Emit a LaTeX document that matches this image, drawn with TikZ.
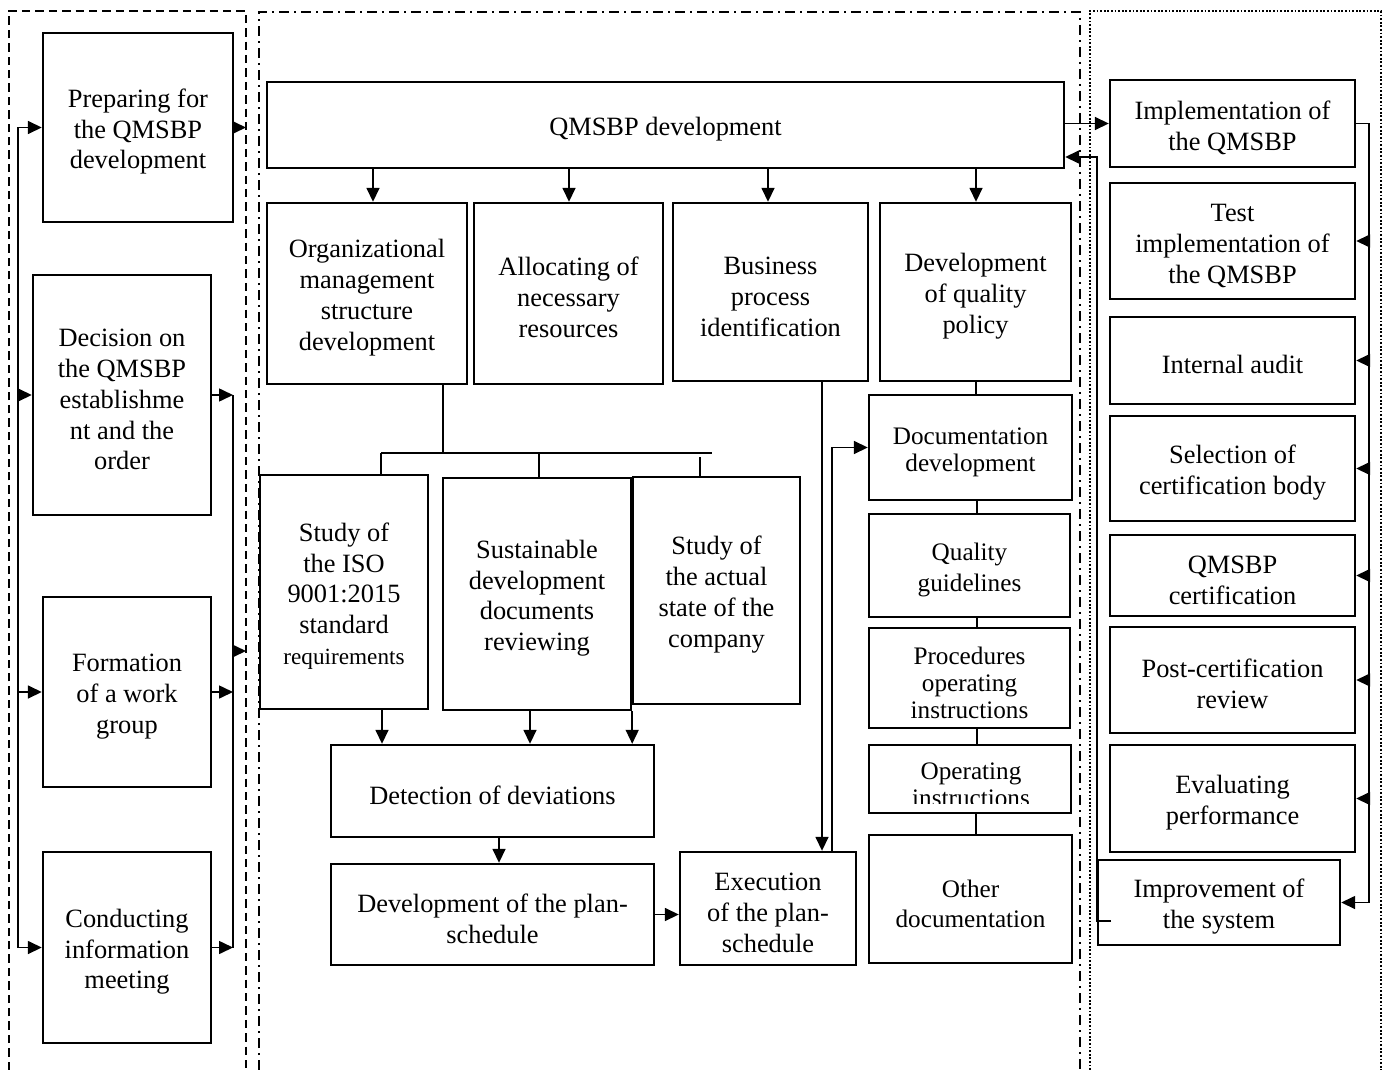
\documentclass[tikz,border=0pt]{standalone}
\usepackage{fontspec}
\setmainfont{Liberation Serif}
\usetikzlibrary{arrows.meta,calc}
\newcommand\fm{\fontsize{13.2}{15.4}\selectfont}
\newcommand\fd{\fontsize{12.6}{13.4}\selectfont}
\newcommand\fdw{\fontsize{12.6}{15.2}\selectfont}
\newcommand\fr{\fontsize{11.6}{14}\selectfont}
\newcommand\sr{\rule{0pt}{13.4pt}}
\begin{document}
\begin{tikzpicture}[x=0.5pt,y=-0.5pt,
 box/.style={draw, line width=1.2pt, inner sep=0pt, align=center, font=\fm},
 bx/.style n args={4}{box, minimum width={(#3-#1)*0.5pt}, minimum height={(#4-#2)*0.5pt}, at={({(#1+#3)/2},{(#2+#4)/2})}},
 dbx/.style n args={4}{bx={#1}{#2}{#3}{#4}, font=\fd},
 conn/.style={line width=0.8pt},
 arr/.style={conn, -{Triangle[length=7pt,width=6.5pt]}},
 grpA/.style={line width=1pt, dash pattern=on 4.2pt off 2.5pt},
 grpB/.style={line width=1pt, dash pattern=on 5pt off 2.5pt on 1pt off 2.5pt},
 grpC/.style={line width=1pt, dash pattern=on 0.9pt off 0.9pt},
]
\useasboundingbox (0,0) rectangle (1386,1070);

% group frames
\draw[grpA] (9,1070) -- (9,11) -- (246,11) -- (246,1070);
\draw[grpB] (259,1070) -- (259,12) -- (1080,12) -- (1080,1070);
\draw[grpC] (1090,1070) -- (1090,11) -- (1381,11) -- (1381,1070);

% left column
\node[bx={43}{33}{233}{222}] (prep) {\sr Preparing for\\the QMSBP\\development};
\node[bx={33}{275}{211}{515}] (decide) {\sr Decision on\\the QMSBP\\establishme\\nt and the\\order};
\node[bx={43}{597}{211}{787}] (form) {\sr Formation\\of a work\\group};
\node[bx={43}{852}{211}{1043}] (conduct) {\sr Conducting\\information\\meeting};

\coordinate (lx) at (18,0);
\coordinate (rx) at (233,0);
\coordinate (lb) at (246,0);
\draw[conn] (prep.west -| lx) -- (conduct.west -| lx);
\draw[arr] (prep.west -| lx) -- (prep.west);
\draw[arr] (decide.west -| lx) -- (decide.west);
\draw[arr] (form.west -| lx) -- (form.west);
\draw[arr] (conduct.west -| lx) -- (conduct.west);
\draw[arr] (prep.east) -- (prep.east -| lb);
\draw[conn] (decide.east -| rx) -- (conduct.east -| rx);
\draw[arr] (decide.east) -- (decide.east -| rx);
\draw[arr] (form.east) -- (form.east -| rx);
\draw[arr] (conduct.east) -- (conduct.east -| rx);
\coordinate (rj) at (233,651);
\coordinate (rje) at (246,651);
\draw[arr] (rj) -- (rje);

% middle column
\node[bx={267}{82}{1064}{168}] (qdev) {\sr QMSBP development};
\node[bx={267}{203}{467}{384}] (org) {\sr Organizational\\management\\structure\\development};
\node[bx={474}{203}{663}{384}] (alloc) {\sr Allocating of\\necessary\\resources};
\node[bx={673}{203}{868}{381}] (bpi) {\sr Business\\process\\identification};
\node[bx={880}{203}{1071}{381}] (dqp) {\sr Development\\of quality\\policy};

\draw[arr] (qdev.south -| 373,0) -- (org.north -| 373,0);
\draw[arr] (qdev.south -| 569,0) -- (alloc.north -| 569,0);
\draw[arr] (qdev.south -| 768,0) -- (bpi.north -| 768,0);
\draw[arr] (qdev.south -| 976,0) -- (dqp.north -| 976,0);

\node[bx={260}{475}{428}{709}] (iso) {\sr Study of\\the ISO\\9001:2015\\standard\\{\fr requirements}};
\node[bx={443}{478}{631}{710}] (sus) {\sr Sustainable\\development\\documents\\reviewing};
\node[bx={633}{477}{800}{704}] (act) {\sr Study of\\the actual\\state of the\\company};

\coordinate (t0) at (443,453);
\coordinate (tl) at (381,453);
\coordinate (tr) at (712,453);
\coordinate (tm) at (539,453);
\coordinate (tk) at (700,457);
\draw[conn] (org.south -| t0) -- (t0);
\draw[conn] (tl) -- (tr);
\draw[conn] (tl) -- (iso.north -| tl);
\draw[conn] (tm) -- (sus.north -| tm);
\draw[conn] (tk) -- (act.north -| tk);

\node[bx={331}{745}{654}{837}] (det) {\sr Detection of deviations};
\draw[arr] (iso.south -| 382,0) -- (det.north -| 382,0);
\draw[arr] (sus.south -| 530,0) -- (det.north -| 530,0);
\draw[arr] (sus.south east) -- (sus.south east |- det.north);

\node[bx={331}{864}{654}{965}] (plan) {\sr Development of the plan-\\schedule};
\draw[arr] (det.south -| 499,0) -- (plan.north -| 499,0);
\node[bx={680}{852}{856}{965}] (exe) {\sr Execution\\of the plan-\\schedule};
\draw[arr] (plan.east) -- (plan.east -| exe.west);

\node[dbx={869}{395}{1072}{500}] (docd) {\sr Documentation\\development};
\node[dbx={869}{514}{1070}{617}, font=\fdw] (qg) {\sr Quality\\guidelines};
\node[dbx={869}{628}{1070}{728}] (proc) {\sr Procedures\\operating\\instructions};
\node[dbx={869}{745}{1071}{813}] (opi) {};
\begin{scope}
\clip (869,745) rectangle (1071,803);
\node[font=\fd, align=center, inner sep=0pt] (opit) at (971,785) {Operating\\instructions};
\end{scope}
\node[dbx={869}{835}{1072}{963}, font=\fdw] (oth) {\sr Other\\documentation};

\draw[arr] (bpi.south -| 822,0) -- (exe.north -| 822,0);
\draw[arr] (exe.north -| 832,0) |- (docd.west);

\draw[conn] (dqp.south -| 976,0) -- (docd.north -| 976,0);
\draw[conn] (docd.south -| 977,0) -- (qg.north -| 977,0);
\draw[conn] (qg.south -| 977,0) -- (proc.north -| 977,0);
\draw[conn] (proc.south -| 977,0) -- (opi.north -| 977,0);
\draw[conn] (opi.south -| 976,0) -- (oth.north -| 976,0);

% right column
\node[bx={1110}{80}{1355}{167}] (impl) {\sr Implementation of\\the QMSBP};
\node[bx={1110}{183}{1355}{299}] (test) {\sr Test\\implementation of\\the QMSBP};
\node[bx={1110}{317}{1355}{404}] (audit) {\sr Internal audit};
\node[bx={1110}{416}{1355}{521}] (sel) {\sr Selection of\\certification body};
\node[bx={1110}{535}{1355}{616}] (cert) {\sr QMSBP\\certification};
\node[bx={1110}{627}{1355}{733}] (post) {\sr Post-certification\\review};
\node[bx={1110}{745}{1355}{852}] (evalp) {\sr Evaluating\\performance};
\node[bx={1098}{860}{1340}{945}] (impr) {\sr Improvement of\\the system};

\draw[arr] (qdev.east |- impl.west) -- (impl.west);

\coordinate (rr) at (1369,0);
\draw[conn] (impl.east) -| (impr.east -| rr);
\draw[arr] (test.east -| rr) -- (test.east);
\draw[arr] (audit.east -| rr) -- (audit.east);
\draw[arr] (sel.east -| rr) -- (sel.east);
\draw[arr] (cert.east -| rr) -- (cert.east);
\draw[arr] (post.east -| rr) -- (post.east);
\draw[arr] (evalp.east -| rr) -- (evalp.east);
\draw[arr] (impr.east -| rr) -- (impr.east);

\coordinate (ret0) at (1111,921);
\coordinate (ret1) at (1097,921);
\coordinate (ret2) at (1097,157);
\draw[arr] (ret0) -- (ret1) -- (ret2) -- (qdev.east |- ret2);
\end{tikzpicture}
\end{document}
